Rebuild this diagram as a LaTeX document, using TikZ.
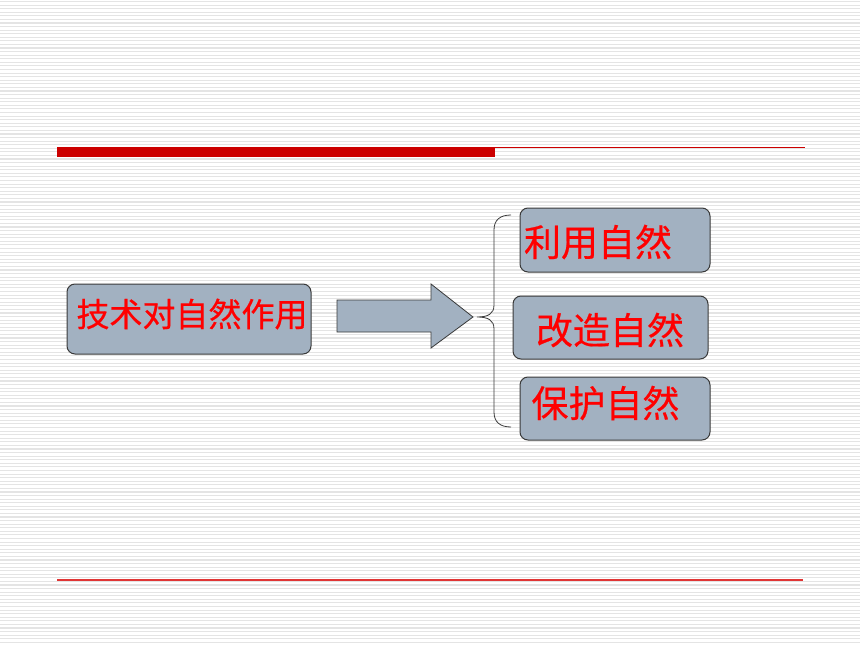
\documentclass[tikz,border=0pt]{standalone}
\usepackage{fontspec}
\newfontfamily\cjk[FakeBold=0.5]{Noto Sans CJK SC}
\definecolor{boxfill}{HTML}{A2B1C1}
\definecolor{boxline}{HTML}{3A3A3A}
\definecolor{barred}{HTML}{CC0000}
\definecolor{lowred}{HTML}{E03535}
\definecolor{stripe}{HTML}{E4E4E4}
\begin{document}
\begin{tikzpicture}[x=1pt,y=-1pt,
  box/.style={draw=boxline, line width=1pt, fill=boxfill, rounded corners=8pt, inner sep=0pt},
  lbl/.style={text=red, font=\cjk\fontsize{37}{40}\selectfont, inner sep=0pt},
  bracestyle/.style={draw=boxline, line width=0.8pt}]
\fill[white] (0,0) rectangle (860,645);
\useasboundingbox (0,0) rectangle (860,645);
\foreach \i in {0,...,180} \draw[stripe, line width=1.1pt] (0,{1.5+\i*3.58}) -- (860,{1.5+\i*3.58});
% title bars
\fill[barred] (57,147) rectangle (495,157);
\draw[barred, line width=1pt] (495,147.5) -- (805,147.5);
\draw[lowred, line width=1.2pt] (57,580) -- (803,580);
% source box
\node[box, minimum width=244pt, minimum height=70pt] (src) at (189,319) {};
\node[lbl, font=\cjk\fontsize{33}{36}\selectfont] (srct) at (192,314) {技术对自然作用};
% arrow
\draw[boxline, fill=boxfill, line width=0.8pt] (337,300) -- (431,300) -- (431,284) -- (473,317) -- (431,348) -- (431,332) -- (337,332) -- cycle;
% brace
\coordinate (btop) at (511,215);
\coordinate (btip) at (477,317);
\coordinate (bbot) at (511,427);
\draw[bracestyle] (btop) .. controls (500,215) and (494,220) .. (494,230) -- (494,305)
  .. controls (494,314) and (488,317) .. (btip)
  .. controls (488,317) and (494,320) .. (494,329) -- (494,412)
  .. controls (494,422) and (500,427) .. (bbot);
% target boxes
\node[box, minimum width=190pt, minimum height=64pt] (b1) at (615,240) {};
\node[lbl] (b1t) at (598,242) {利用自然};
\node[box, minimum width=195pt, minimum height=63pt] (b2) at (610.5,327.5) {};
\node[lbl] (b2t) at (610,330) {改造自然};
\node[box, minimum width=190pt, minimum height=63pt] (b3) at (615,408.5) {};
\node[lbl] (b3t) at (605.5,403) {保护自然};
\end{tikzpicture}
\end{document}
